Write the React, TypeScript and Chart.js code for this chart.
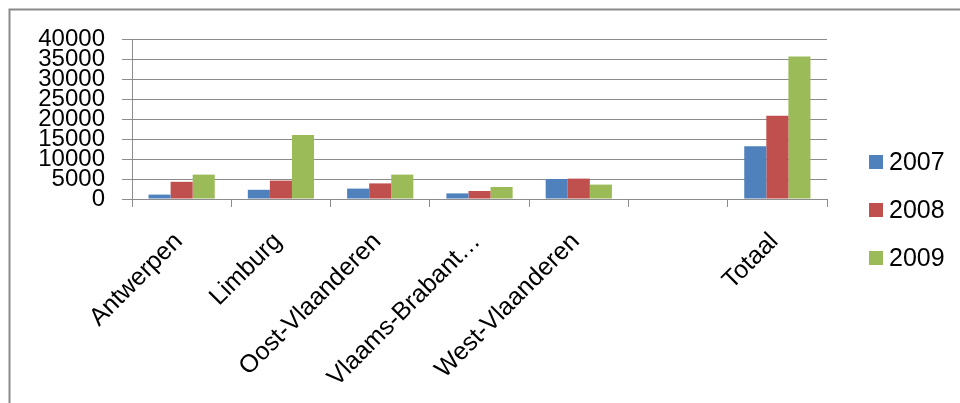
import React, { useEffect, useRef } from "react";
import { Chart, registerables } from "chart.js";

Chart.register(...registerables);

const categories = [
  "Antwerpen",
  "Limburg",
  "Oost-Vlaanderen",
  "Vlaams-Brabant…",
  "West-Vlaanderen",
  "",
  "Totaal",
];
const seriesNames = ["2007", "2008", "2009"];
const values2007 = [1100, 2300, 2600, 1400, 5000, null, 13200];
const values2008 = [4300, 4600, 3900, 2000, 5100, null, 20800];
const values2009 = [6100, 16000, 6100, 3000, 3600, null, 35600];
const colors = ["#4F81BD", "#C0504D", "#9BBB59"];
const yMax = 40000;
const yStep = 5000;

const FONT = "'Liberation Sans', Arial, sans-serif";
const GRID = "#8c8c8c";

const framePlugin = {
  id: "frame",
  beforeDraw(chart: any) {
    const ctx = chart.ctx;
    ctx.save();
    ctx.strokeStyle = "#8a8a8a";
    ctx.lineWidth = 2;
    ctx.beginPath();
    ctx.moveTo(9.5, chart.height);
    ctx.lineTo(9.5, 9.5);
    ctx.lineTo(chart.width, 9.5);
    ctx.stroke();
    ctx.restore();
  },
};

const legendPlugin = {
  id: "sideLegend",
  afterDraw(chart: any) {
    const ctx = chart.ctx;
    ctx.save();
    ctx.font = `25px ${FONT}`;
    ctx.textBaseline = "middle";
    ctx.textAlign = "left";
    const x = 869;
    const startY = 162;
    const gap = 48;
    chart.data.datasets.forEach((ds: any, i: number) => {
      const cy = startY + i * gap;
      ctx.fillStyle = ds.backgroundColor;
      ctx.fillRect(x, cy - 7, 14, 14);
      ctx.fillStyle = "#000";
      ctx.fillText(ds.label, x + 20, cy + 1);
    });
    ctx.restore();
  },
};

export default function App() {
  const ref = useRef<HTMLCanvasElement>(null);

  useEffect(() => {
    if (!ref.current) return;
    const allValues = [values2007, values2008, values2009];
    const chart = new Chart(ref.current, {
      type: "bar",
      data: {
        labels: categories,
        datasets: seriesNames.map((name, i) => ({
          label: name,
          data: allValues[i],
          backgroundColor: colors[i],
          borderWidth: 0,
          barPercentage: 1,
          categoryPercentage: 0.667,
        })),
      },
      options: {
        animation: false,
        responsive: false,
        maintainAspectRatio: false,
        layout: { padding: { left: 10, right: 133, top: 39, bottom: 0 } },
        plugins: {
          legend: { display: false },
          tooltip: { enabled: false },
        },
        scales: {
          x: {
            grid: {
              display: true,
              offset: true,
              drawOnChartArea: false,
              drawTicks: true,
              tickLength: 8,
              color: GRID,
            },
            border: { display: true, color: GRID, width: 1 },
            ticks: {
              autoSkip: false,
              maxRotation: 45,
              minRotation: 45,
              labelOffset: -3,
              padding: 20,
              color: "#000",
              font: { family: FONT, size: 25 },
            },
            afterFit(scale: any) {
              scale.height = 204;
            },
          },
          y: {
            min: 0,
            max: yMax,
            grid: {
              color: GRID,
              drawTicks: true,
              tickLength: 10,
            },
            border: { display: true, color: GRID, width: 1 },
            ticks: {
              stepSize: yStep,
              autoSkip: false,
              padding: 17,
              color: "#000",
              font: { family: FONT, size: 24 },
              callback: (v: any) => String(v),
            },
            afterFit(scale: any) {
              scale.width = 122;
            },
          },
        },
      },
      plugins: [framePlugin, legendPlugin],
    });
    return () => chart.destroy();
  }, []);

  return (
    <div style={{ position: "absolute", left: 0, top: 0, width: 960, height: 403, background: "#fff" }}>
      <canvas ref={ref} width={960} height={403} style={{ display: "block" }} />
    </div>
  );
}
